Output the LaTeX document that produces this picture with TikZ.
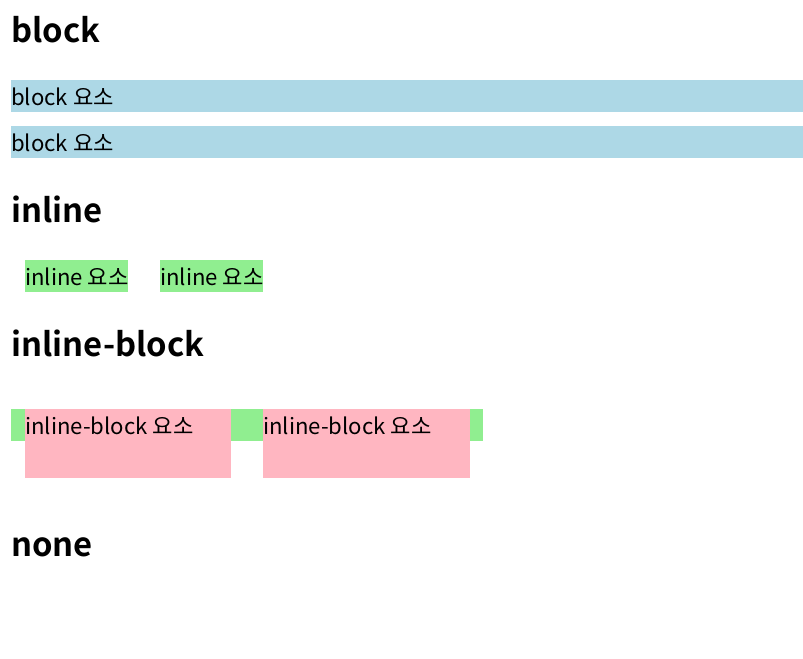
\documentclass[tikz,border=0pt]{standalone}
\usepackage{fontspec}
\setmainfont{Noto Sans CJK KR}[BoldFont={* Bold}]
\definecolor{lblue}{HTML}{ADD8E6}
\definecolor{lgreen}{HTML}{90EE90}
\definecolor{lpink}{HTML}{FFB6C1}
\begin{document}
\begin{tikzpicture}[x=0.75pt,y=-0.75pt,
  head/.style={anchor=base west,inner sep=0pt,font=\fontsize{24.6}{30}\selectfont\bfseries},
  body/.style={anchor=base west,inner sep=0pt,font=\fontsize{16.6}{20}\selectfont}]
\useasboundingbox[fill=white] (0,0) rectangle (803,658);
% block
\node[head] (h1) at (11,42.7) {block};
\fill[lblue] (11,80) rectangle (803,112);
\node[body] (b1) at (11,105) {block 요소};
\fill[lblue] (11,126) rectangle (803,158);
\node[body] (b2) at (11,151) {block 요소};
% inline
\node[head] (h2) at (11,222.7) {inline};
\fill[lgreen] (25,260) rectangle (128,292);
\node[body] (i1) at (25,285) {inline 요소};
\fill[lgreen] (160,260) rectangle (263,292);
\node[body] (i2) at (160,285) {inline 요소};
% inline-block
\node[head] (h3) at (11,356.7) {inline-block};
\fill[lgreen] (11,409) rectangle (483,441);
\fill[lpink] (25,409) rectangle (231,478);
\fill[lpink] (263,409) rectangle (470,478);
\node[body] (ib1) at (25,434) {inline-block 요소};
\node[body] (ib2) at (263,434) {inline-block 요소};
% none
\node[head] (h4) at (11,556) {none};
\end{tikzpicture}
\end{document}
